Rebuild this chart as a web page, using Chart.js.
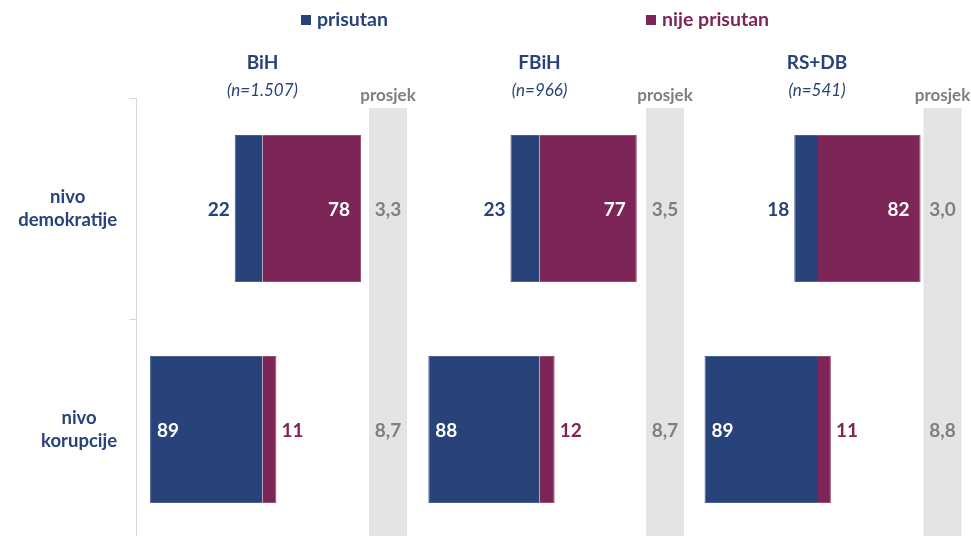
<!DOCTYPE html>
<html>
<head>
<meta charset="utf-8">
<script src="https://cdn.jsdelivr.net/npm/chart.js@4.4.1/dist/chart.umd.min.js"></script>
<style>
  html, body { margin: 0; padding: 0; background: #fff; width: 971px; height: 536px; overflow: hidden; }
  canvas { position: absolute; left: 0; top: 0; }
</style>
</head>
<body>
<canvas id="c0" width="971" height="544"></canvas>
<canvas id="c1" width="971" height="544"></canvas>
<canvas id="c2" width="971" height="544"></canvas>
<script>
const categories = [["nivo", "demokratije"], ["nivo", "korupcije"]];
const regions = ["BiH", "FBiH", "RS+DB"];
const sampleSizes = ["(n=1.507)", "(n=966)", "(n=541)"];
const seriesNames = ["prisutan", "nije prisutan"];
const prisutan = [[22, 89], [23, 88], [18, 89]];
const nijePrisutan = [[78, 11], [77, 12], [82, 11]];
const prosjek = [[3.3, 8.7], [3.5, 8.7], [3.0, 8.8]];

const BLUE = "#28427a";
const PURPLE = "#7e2557";
const GREY_COL = "#e4e4e4";
const GREY_TXT = "#7f7f7f";
const FONT = "Lato, 'Open Sans', sans-serif";

// layout: where each panel's zero line sits, and how wide one point is
const centers = [262.5, 539.5, 817];
const PX = 1.2636;
const X_MIN = -100, X_MAX = 120;
const COL = [84.3, 114.4]; // grey "prosjek" column, in x units

const fmt = v => v.toFixed(1).replace(".", ",");

function panelPlugin(p) {
    return {
        id: "panel" + p,
        beforeDatasetsDraw(chart) {
            const { ctx, scales: { x } } = chart;
            const x0 = x.getPixelForValue(COL[0]);
            const x1 = x.getPixelForValue(COL[1]);
            ctx.save();
            ctx.fillStyle = GREY_COL;
            ctx.fillRect(x0, 108, x1 - x0, chart.height - 108);
            ctx.restore();
        },
        afterDatasetsDraw(chart) {
            const { ctx, scales: { x } } = chart;
            const cx = x.getPixelForValue(0);
            const colMid = x.getPixelForValue((COL[0] + COL[1]) / 2);
            ctx.save();
            ctx.textAlign = "center";
            ctx.textBaseline = "alphabetic";

            // panel header
            ctx.fillStyle = BLUE;
            ctx.font = `bold 19px ${FONT}`;
            ctx.fillText(regions[p], cx, 69);
            ctx.font = `italic 17px ${FONT}`;
            ctx.fillText(sampleSizes[p], cx, 96);
            ctx.fillStyle = GREY_TXT;
            ctx.font = `bold 17px ${FONT}`;
            ctx.fillText("prosjek", colMid, 101);

            // value labels
            ctx.font = `bold 19px ${FONT}`;
            chart.getDatasetMeta(0).data.forEach((bar, i) => {
                const v = prisutan[p][i];
                const left = Math.min(bar.x, bar.base);
                const ty = bar.y + 7.5;
                if (v < 50) {
                    ctx.textAlign = "right";
                    ctx.fillStyle = BLUE;
                    ctx.fillText(v, left - 5, ty);
                } else {
                    ctx.textAlign = "left";
                    ctx.fillStyle = "#ffffff";
                    ctx.fillText(v, left + 7, ty);
                }
                // average in the grey column
                ctx.textAlign = "center";
                ctx.fillStyle = GREY_TXT;
                ctx.fillText(fmt(prosjek[p][i]), colMid, ty);
            });
            chart.getDatasetMeta(1).data.forEach((bar, i) => {
                const v = nijePrisutan[p][i];
                const right = Math.max(bar.x, bar.base);
                const ty = bar.y + 7.5;
                if (v >= 50) {
                    ctx.textAlign = "right";
                    ctx.fillStyle = "#ffffff";
                    ctx.fillText(v, right - 11, ty);
                } else {
                    ctx.textAlign = "left";
                    ctx.fillStyle = PURPLE;
                    ctx.fillText(v, right + 5, ty);
                }
            });
            ctx.restore();
        }
    };
}

// category names + legend, drawn once on the first panel
const firstPanelExtras = {
    id: "extras",
    afterDraw(chart) {
        const { ctx, scales: { y } } = chart;
        ctx.save();
        ctx.font = `bold 18.5px ${FONT}`;
        ctx.textAlign = "center";
        ctx.fillStyle = BLUE;
        const rightEdge = chart.chartArea.left - 19;
        categories.forEach((lines, i) => {
            const yc = y.getPixelForValue(i);
            const maxW = Math.max(...lines.map(l => ctx.measureText(l).width));
            const lx = rightEdge - maxW / 2;
            ctx.fillText(lines[0], lx, yc - 6);
            ctx.fillText(lines[1], lx, yc + 17.5);
        });

        // legend
        const legendX = [301, 646];
        const colors = [BLUE, PURPLE];
        ctx.font = `bold 19.5px ${FONT}`;
        ctx.textAlign = "left";
        seriesNames.forEach((name, i) => {
            ctx.fillStyle = colors[i];
            ctx.fillRect(legendX[i], 15, 10, 10);
            ctx.fillText(name, legendX[i] + 16, 26);
        });
        ctx.restore();
    }
};

function makeChart(p) {
    const left = centers[p] + X_MIN * PX;
    const right = centers[p] + X_MAX * PX;
    const first = p === 0;

    const yScale = {
        stacked: true,
        display: first,
        grid: { display: true, drawOnChartArea: false, drawTicks: true, tickLength: 7, color: "#d9d9d9", offset: true },
        border: { display: true, color: "#d9d9d9" },
        ticks: { display: false }
    };
    if (first) yScale.afterFit = s => { s.width = left; };

    return new Chart(document.getElementById("c" + p), {
        type: "bar",
        data: {
            labels: categories,
            datasets: [
                { label: seriesNames[0], data: prisutan[p].map(v => -v), backgroundColor: BLUE,
                  borderColor: "#4a5f91", borderWidth: 1 },
                { label: seriesNames[1], data: nijePrisutan[p], backgroundColor: PURPLE,
                  borderColor: "#96506f", borderWidth: 1 }
            ]
        },
        options: {
            indexAxis: "y",
            responsive: false,
            animation: false,
            layout: { padding: { top: 98, bottom: 4, left: first ? 0 : left, right: 971 - right } },
            datasets: { bar: { barPercentage: 0.665, categoryPercentage: 1 } },
            scales: {
                x: { stacked: true, min: X_MIN, max: X_MAX, display: false },
                y: yScale
            },
            plugins: { legend: { display: false }, tooltip: { enabled: false } }
        },
        plugins: first ? [panelPlugin(p), firstPanelExtras] : [panelPlugin(p)]
    });
}

regions.forEach((r, p) => makeChart(p));
</script>
</body>
</html>
